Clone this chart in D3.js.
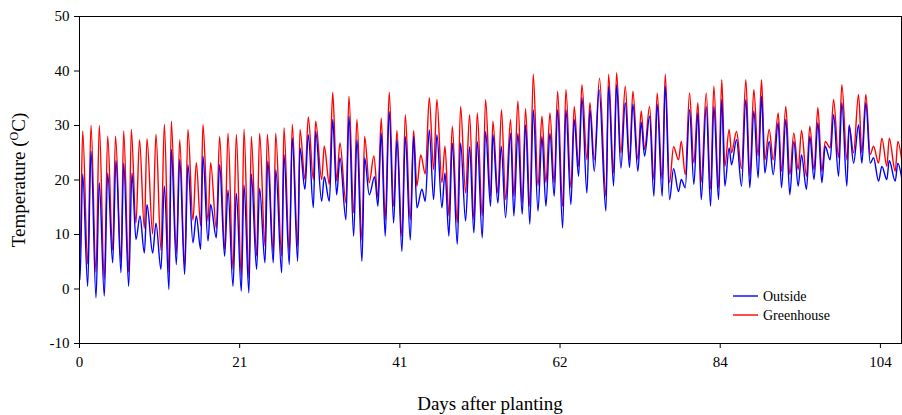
<!DOCTYPE html>
<html><head><meta charset="utf-8">
<script src="https://cdn.jsdelivr.net/npm/d3@7"></script>
<style>body{margin:0;background:#fff}svg text{font-family:"Liberation Serif","Times New Roman",serif !important;fill:#000}</style>
</head><body><svg id="c" width="902" height="415"></svg>
<script>
// x values are days after planting, y values in degrees C
const xTickHours = [0, 500, 1000, 1500, 2000, 2500];
const xTickLabels = ["0", "21", "41", "62", "84", "104"];
const yTicks = [-10, 0, 10, 20, 30, 40, 50];
const seriesNames = ["Outside", "Greenhouse"];
const seriesColors = ["#0000ff", "#ff0000"];

const outside = [[0,5.5],[0.13,1.6],[0.48,21],[1.13,0.4],[1.56,25.2],[2.21,-1.7],[2.64,19.4],[3.29,-1.4],[3.73,21.2],[4.38,4.7],[4.81,23.5],[5.46,2.9],[5.81,23.0],[6.46,0.4],[6.89,21.2],[7.41,9.0],[7.93,13.3],[8.5,6.5],[8.84,15.4],[9.58,6.5],[10.01,12.0],[10.66,3.5],[11.1,18.8],[11.7,-0.2],
[12.01,25.5],[12.66,4.4],[13.1,23.7],[13.74,2.6],[14.17,22.7],[14.82,8.4],[15.26,13.3],[15.82,7.2],[16.12,24.3],[16.78,8.7],[17.12,15.4],[17.86,9.3],[18.29,22.7],[18.94,5.9],[19.38,18.1],[20.03,0.4],[20.46,17.5],[21.11,-0.5],[21.46,19],[22.1,-0.8],[22.41,21.0],[23.1,3.5],[23.49,18.4],
[24.19,4.7],[24.55,23.4],[25.27,4.7],[25.6,21.8],[26.36,2.9],[26.66,24.6],[27.35,4.4],[27.74,27.6],[28.44,5.0],[28.74,25.8],[29.39,18.2],[29.82,28.2],[30.48,14.8],[30.78,28.8],[31.56,16.0],[31.9,20.5],[32.56,16.0],[33.0,31.0],[33.51,17.2],[33.94,24],[34.72,12.6],[35.11,31.6],
[35.72,9.6],[36.15,27.3],[36.8,5.0],[37.15,24.0],[37.75,17.2],[38.45,20.5],[38.88,15.1],[39.31,28.5],[39.83,9.6],[40.35,32.5],[40.92,12.0],[41.35,27.3],[42.0,6.8],[42.44,27.9],[43.09,8.9],[43.52,27.9],[43.95,14.8],[44.6,18.2],[45.04,16.0],[45.56,29.1],[46.12,16.3],[46.55,28.2],[47.2,14.8],[47.6,21.2],
[48.11,9.6],[48.55,26.7],[49.2,8.1],[49.63,26.7],[50.28,12.4],[50.8,26],[51.36,10.2],[51.8,27.0],[52.45,9.3],[52.88,28.8],[53.53,15.1],[53.83,28.2],[54.48,15.7],[54.92,26.1],[55.48,13.0],[56.13,28.5],[56.56,13.3],[57.08,28.5],[57.65,13.6],[58.08,30],[58.64,11.8],[59.08,32.8],
[59.7,14.2],[60.21,27.9],[60.73,15.1],[61.25,28.5],[61.81,16.9],[62.25,32.8],[62.9,11.1],[63.33,32.8],[63.98,15.4],[64.41,31.0],[64.98,20.6],[65.41,35.0],[66.06,17.5],[66.45,32.8],[67.02,21.5],[67.65,36.5],[68.53,14.2],[68.88,37.1],[69.53,18.8],[69.92,37.4],[70.48,22.1],[71.05,34.1],
[71.6,22.2],[72.04,33.8],[72.69,21.5],[73.12,30.5],[73.56,24.3],[74.21,31.6],[74.77,16.9],[75.2,33.8],[75.85,16.9],[76.25,37.1],[76.81,16.3],[77.33,22],[77.98,17.8],[78.33,20.0],[78.85,18.5],[79.41,32.8],[79.97,19.1],[80.49,32.2],[80.93,16.3],[81.58,33.4],[82.14,15.1],[82.57,33.4],[83.18,16.3],[83.6,34.7],
[84.0,18.8],[84.56,25.8],[84.87,22.7],[85.52,27.3],[86.17,18.8],[86.73,34.7],[87.25,18.5],[87.77,32.6],[88.33,20.3],[88.77,35.3],[89.2,21.2],[89.77,27],[90.29,20.9],[90.94,30.4],[91.37,18.5],[91.93,31.0],[92.45,17.2],[92.97,27],[93.54,18.8],[93.97,24.5],[94.62,18.2],[95.05,27.9],
[95.6,20.0],[96.1,30.4],[96.62,19.4],[97.05,26.1],[97.7,23.6],[98.14,31.9],[98.79,20.6],[99.22,34.1],[99.87,18.8],[100.17,30],[100.74,23.0],[101.39,30],[101.82,23.0],[102.34,34.1],[102.91,23],[103.34,24.0],[103.99,19.7],[104.42,22.4],[105.07,20.0],[105.38,23.5],[106.16,19.7],[106.5,23],[107.0,20.3]];

const greenhouse = [[0,8.6],[0.13,6],[0.48,28.9],[1.13,4.5],[1.56,29.9],[2.21,3],[2.64,29.9],[3.29,1.7],[3.73,28.0],[4.38,7],[4.75,28.0],[5.46,5],[5.81,28.9],[6.46,3],[6.8,29.2],[7.41,12],[7.87,27.3],[8.5,11],[8.84,27.5],[9.58,10],[10.01,28.3],[10.66,7],[11.1,30.1],[11.7,3],
[12.01,30.7],[12.66,6.5],[13.1,27.3],[13.74,4],[14.17,29.2],[14.82,12.5],[15.26,23.1],[15.82,11.5],[16.12,30.1],[16.78,12.3],[17.12,23.1],[17.86,11],[18.29,27.9],[18.94,7.2],[19.38,28.5],[20.03,3.5],[20.46,28.2],[21.11,2.3],[21.46,29.2],[22.1,2],[22.41,27.9],[23.1,6],[23.49,28.5],
[24.19,7.8],[24.49,28.3],[25.27,6.6],[25.58,28.5],[26.36,6.0],[26.66,29.5],[27.35,6.6],[27.74,30.1],[28.44,7.8],[28.74,29.2],[29.39,20.0],[29.82,31.5],[30.48,20.0],[30.78,30.7],[31.56,20],[31.9,26.1],[32.56,19.1],[33.0,36.0],[33.51,19.7],[33.94,26.7],[34.72,15.7],[35.11,35.3],
[35.72,13.9],[36.15,31.0],[36.8,8.9],[37.15,27.9],[37.75,19.4],[38.35,24.3],[38.88,16.7],[39.31,31.3],[39.83,12.6],[40.35,36.0],[40.92,15.1],[41.35,29],[42.0,9.6],[42.44,31.9],[43.09,12.6],[43.52,29],[43.95,18.8],[44.45,24.5],[45.04,21],[45.56,35.0],[46.12,21.8],[46.55,34.7],[47.2,19.4],[47.6,26.1],
[48.11,13.3],[48.55,29.8],[49.2,12.0],[49.63,33.4],[50.28,17.5],[50.8,31.9],[51.36,12.6],[51.8,32.2],[52.45,13.3],[52.88,34.7],[53.53,16.9],[53.83,30.7],[54.48,17.5],[54.95,32.8],[55.48,16.3],[56.13,31],[56.56,16.9],[57.08,34.4],[57.65,15.7],[58.08,33],[58.64,15.1],[59.08,39.3],
[59.7,18.8],[60.21,31.6],[60.73,19.4],[61.25,32.2],[61.81,19.4],[62.25,36.2],[62.9,15.1],[63.33,36.5],[63.98,18.5],[64.41,33.4],[64.98,22.4],[65.41,37.4],[66.06,23.6],[66.45,34.1],[67.02,23.6],[67.7,38.6],[68.53,16.9],[68.88,39.3],[69.53,21.2],[69.92,39.6],[70.48,24.9],[71.05,37.1],
[71.6,23.6],[72.04,36.2],[72.69,23.6],[73.12,32.6],[73.56,25.5],[74.21,33.4],[74.77,20],[75.2,35.9],[75.85,20],[76.25,39.3],[76.81,19.4],[77.33,26],[77.98,23.6],[78.33,27.0],[78.85,20.9],[79.41,35.9],[79.97,23.0],[80.49,34.1],[80.93,19.5],[81.58,35.9],[82.14,18.2],[82.57,37.1],[83.18,18.5],[83.6,38.3],
[84.0,22.4],[84.56,29.2],[84.87,24.9],[85.52,28.8],[86.17,22],[86.73,38.3],[87.25,20.6],[87.77,36.5],[88.33,24.3],[88.77,38.3],[89.2,23.6],[89.77,29.2],[90.29,23.6],[90.94,32.2],[91.37,21.5],[91.93,33.4],[92.45,20.9],[92.97,28.5],[93.54,21.8],[93.97,29],[94.62,20.6],[95.05,29.8],
[95.6,21.8],[96.1,33.2],[96.62,21.5],[97.05,27.0],[97.7,25.8],[98.14,34.7],[98.79,24.0],[99.22,37.4],[99.87,23.6],[100.17,29.8],[100.74,24.9],[101.39,35.6],[101.82,24.9],[102.34,35.6],[102.91,24.6],[103.34,26.1],[103.99,23.0],[104.42,27.6],[105.07,22.4],[105.38,27.6],[106.16,21.5],[106.5,27.0],[107.0,23.6]];

const FONT = "Liberation Serif, Times New Roman, serif";
const svg = d3.select("#c");
const m = {left: 79, top: 16, right: 901, bottom: 343};
const x = d3.scaleLinear().domain([0, 2569]).range([m.left, m.right + 1]);
const y = d3.scaleLinear().domain([-10, 50]).range([m.bottom, m.top]);

svg.append("defs").append("clipPath").attr("id", "clip")
  .append("rect").attr("x", m.left).attr("y", m.top).attr("width", m.right - m.left + 1).attr("height", m.bottom - m.top);

const line = d3.line().x(d => x(d[0] * 24)).y(d => y(d[1])).curve(d3.curveMonotoneX);
const g = svg.append("g").attr("clip-path", "url(#clip)");
g.append("path").attr("d", line(greenhouse)).attr("fill", "none").attr("stroke", seriesColors[1]).attr("stroke-width", 1.4);
g.append("path").attr("d", line(outside)).attr("fill", "none").attr("stroke", seriesColors[0]).attr("stroke-width", 1.4);

// axes
const xAxis = d3.axisBottom(x).tickValues(xTickHours).tickFormat((d, i) => xTickLabels[i]).tickSize(5).tickSizeOuter(0);
const gx = svg.append("g").attr("transform", `translate(0,${m.bottom})`).call(xAxis).attr("font-family", FONT);
gx.selectAll("text").attr("font-size", 15).attr("dy", "1.05em").attr("font-family", FONT);
const yAxis = d3.axisLeft(y).tickValues(yTicks).tickFormat(d => String(d)).tickSize(5).tickSizeOuter(0);
const gy = svg.append("g").attr("transform", `translate(${m.left},0)`).call(yAxis).attr("font-family", FONT);
gy.selectAll("text").attr("font-size", 15).attr("dx", "-0.1em").attr("font-family", FONT);
svg.selectAll(".domain, .tick line").attr("stroke", "#000");
// frame
svg.append("line").attr("x1", m.left).attr("x2", m.right).attr("y1", m.top + 0.5).attr("y2", m.top + 0.5).attr("stroke", "#000");
svg.append("line").attr("x1", m.right + 0.5).attr("x2", m.right + 0.5).attr("y1", m.top).attr("y2", m.bottom).attr("stroke", "#000");

// titles
svg.append("text").attr("x", 490).attr("y", 410).attr("text-anchor", "middle").attr("font-family", FONT).attr("font-size", 19).text("Days after planting");
const yt = svg.append("text").attr("transform", "translate(25,180) rotate(-90)").attr("text-anchor", "middle").attr("font-family", FONT).attr("font-size", 19);
yt.append("tspan").text("Temperature (");
yt.append("tspan").attr("font-size", 12).attr("dy", -7).text("O");
yt.append("tspan").attr("dy", 7).text("C)");

// legend
const leg = svg.append("g");
seriesNames.forEach((n, i) => {
  const ly = 296 + i * 19;
  leg.append("line").attr("x1", 733).attr("x2", 758).attr("y1", ly).attr("y2", ly).attr("stroke", seriesColors[i]).attr("stroke-width", 1.4);
  leg.append("text").attr("x", 763).attr("y", ly + 5).attr("font-family", FONT).attr("font-size", 14).text(n);
});
</script></body></html>
